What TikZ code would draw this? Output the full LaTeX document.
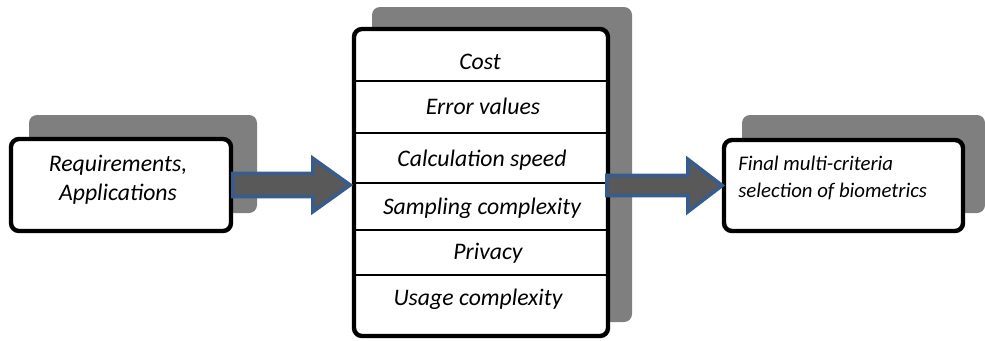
\documentclass[tikz,border=0pt]{standalone}
\usepackage{fontspec}
\setmainfont{Carlito}
\usetikzlibrary{calc}
\definecolor{shadowgray}{HTML}{7F7F7F}
\definecolor{arrowfill}{HTML}{595959}
\definecolor{arrowblue}{HTML}{385D8A}
\begin{document}
\begin{tikzpicture}[x=0.75pt,y=-0.75pt,
  shadowbox/.style={fill=shadowgray, rounded corners=6pt, draw=none, inner sep=0pt, outer sep=0pt},
  mainbox/.style={draw=black, line width=3.3pt, fill=white, rounded corners=6pt, inner sep=0pt, outer sep=0pt},
  divider/.style={line width=1.9pt},
  rowtext/.style={font=\fontsize{17.8}{21.75}\selectfont\itshape, text height=0.7em, text depth=0.2em, inner sep=0pt},
  bigtext/.style={font=\fontsize{17.8}{21.75}\selectfont\itshape, align=center, inner sep=0pt},
  smalltext/.style={font=\fontsize{15.6}{20.25}\selectfont\itshape, align=left, inner sep=0pt},
  blockarrow/.style={fill=arrowfill, draw=arrowblue, line width=2.8pt, line join=miter}]
\useasboundingbox (0,0) rectangle (985,340);

% shadows
\node[shadowbox, minimum width=171pt, minimum height=73.5pt] (Ls) at (143,164) {};
\node[shadowbox, minimum width=195pt, minimum height=236.25pt] (Ms) at (502,164.5) {};
\node[shadowbox, minimum width=182.25pt, minimum height=73.5pt] (Rs) at (863.5,164) {};

% boxes
\node[mainbox, minimum width=165pt, minimum height=69pt] (L) at (121,185) {};
\node[mainbox, minimum width=190.5pt, minimum height=230.25pt] (M) at (481,182.5) {};
\node[mainbox, minimum width=179.25pt, minimum height=68.25pt] (R) at (843.5,185.5) {};

% dividers
\foreach \yy in {81,133,183,230,275}
  \draw[divider] (354,\yy) -- (608,\yy);

% texts
\node[bigtext] (Lt) at (118,179.5) {Requirements,\\Applications};
\node[rowtext] (c1) at (480,66) {Cost};
\node[rowtext] (c2) at (483,111) {Error values};
\node[rowtext] (c3) at (482,163) {Calculation speed};
\node[rowtext] (c4) at (482,211) {Sampling complexity};
\node[rowtext] (c5) at (488,256) {Privacy};
\node[rowtext] (c6) at (478,302) {Usage complexity};
\node[smalltext, anchor=west] (Rt) at (738,177.5) {Final multi-criteria\\selection of biometrics};

% arrows
\coordinate (s1) at ($(L.east)+(2,0)$);
\coordinate (t1) at ($(M.west |- L.east)+(-4,0)$);
\draw[blockarrow] ($(s1)+(0,-11.5)$) -- ($(t1)+(-37,-11.5)$) -- ($(t1)+(-37,-26.5)$)
  -- (t1) -- ($(t1)+(-37,26.5)$) -- ($(t1)+(-37,11.5)$) -- ($(s1)+(0,11.5)$) -- cycle;

\coordinate (s2) at ($(M.east |- R.west)+(-1,0)$);
\coordinate (t2) at ($(R.west)+(-2,0)$);
\draw[blockarrow] ($(s2)+(0,-10)$) -- ($(t2)+(-34,-10)$) -- ($(t2)+(-34,-26)$)
  -- (t2) -- ($(t2)+(-34,26)$) -- ($(t2)+(-34,10)$) -- ($(s2)+(0,10)$) -- cycle;
\end{tikzpicture}
\end{document}
